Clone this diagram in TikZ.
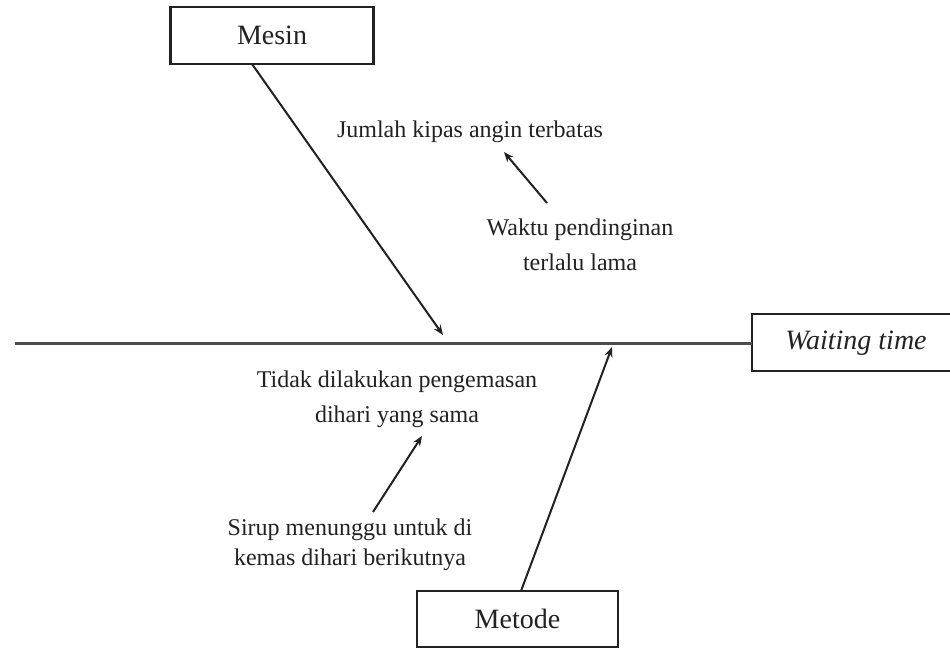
\documentclass[tikz,border=0pt]{standalone}
\usepackage{fontspec}
\setmainfont{Liberation Serif}
\usetikzlibrary{arrows.meta}
\definecolor{ink}{HTML}{222222}
\definecolor{spinec}{HTML}{4d4d4d}
\begin{document}
\begin{tikzpicture}[x=1pt,y=-1pt,
  box/.style={draw=ink,line width=2.2pt,fill=white,inner sep=0pt,font=\fontsize{28}{30}\selectfont,text=ink},
  lbl/.style={inner sep=0pt,align=center,text=ink,font=\fontsize{24}{35}\selectfont},
  arr/.style={draw=ink,line width=2pt,-{Stealth[length=10pt,width=8pt]}},
]
\useasboundingbox (0,0) rectangle (950,648);
\clip (0,0) rectangle (950,648);
\fill[white] (0,0) rectangle (950,648);
% effect box
\draw[ink,line width=2.2pt] (960,314) -- (752,314) -- (752,371) -- (960,371);
\node[inner sep=0pt,text=ink,font=\fontsize{28}{30}\selectfont\itshape] (wt) at (856,343) {Waiting time};
\coordinate (wtw) at (752,343);
\coordinate (tail) at (15,343);
\draw[spinec,line width=3pt] (tail) -- (wtw);
% category boxes
\node[box,minimum width=203pt,minimum height=57pt] (mesin) at (272,35.5) {Mesin};
\node[box,minimum width=201pt,minimum height=56pt] (metode) at (517.5,619) {Metode};
% main bones
\coordinate (m1) at (252,64);
\coordinate (m2) at (443,335);
\draw[arr] (m1) -- (m2);
\coordinate (d1) at (521,591);
\coordinate (d2) at (612,347);
\draw[arr] (d1) -- (d2);
% causes
\node[lbl] (jumlah) at (470,132) {Jumlah kipas angin terbatas};
\node[lbl] (waktu) at (580,245) {Waktu pendinginan\\terlalu lama};
\coordinate (w1) at (547,203);
\coordinate (w2) at (504,152);
\draw[arr] (w1) -- (w2);
\node[lbl] (tidak) at (397,399) {Tidak dilakukan pengemasan\\dihari yang sama};
\node[lbl,font=\fontsize{24}{30}\selectfont] (sirup) at (350,545) {Sirup menunggu untuk di\\kemas dihari berikutnya};
\coordinate (s1) at (373,512);
\coordinate (s2) at (422,436);
\draw[arr] (s1) -- (s2);
\end{tikzpicture}
\end{document}
